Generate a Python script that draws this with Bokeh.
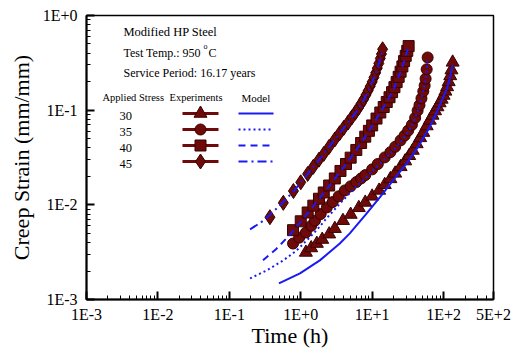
import math

from bokeh.plotting import figure
from bokeh.models import Range1d, FixedTicker, Label
from bokeh.embed import file_html
from bokeh.resources import INLINE

# ---- creep test data: time (h) and creep strain (mm/mm) ----
stresses = ["30", "35", "40", "45"]

t30 = [1.18, 1.4, 1.68, 2.0, 2.5, 3.0, 3.9, 5.0, 6.5, 8.0, 10.0, 12.5, 15.0, 18.0,
       21.0, 25.0, 29.0, 33.0, 37.0, 42.0, 47.0, 52.0, 58.0, 64.0, 70.0, 76.0,
       82.0, 88.0, 94.0, 100.0, 106.0, 112.0, 118.0, 124.0, 129.0, 134.0]
e30 = [0.00314, 0.0035, 0.0039, 0.0043, 0.0049, 0.0056, 0.0068, 0.0079, 0.0093,
       0.0106, 0.0123, 0.0142, 0.0163, 0.0188, 0.0215, 0.0252, 0.029, 0.033,
       0.0375, 0.044, 0.051, 0.058, 0.068, 0.078, 0.088, 0.098, 0.108, 0.119,
       0.130, 0.143, 0.158, 0.176, 0.199, 0.230, 0.265, 0.320]

t35 = [0.78, 0.95, 1.18, 1.4, 1.58, 1.9, 2.32, 2.8, 3.4, 4.14, 5.0, 6.0, 7.0, 8.0,
       10.0, 12.0, 15.0, 18.0, 21.0, 25.0, 28.5, 32.0, 36.0, 40.0, 43.3, 46.0,
       49.0, 52.0, 54.3, 56.0, 58.0, 59.8]
e35 = [0.0039, 0.0045, 0.0051, 0.0060, 0.0068, 0.0080, 0.0094, 0.0107, 0.0123,
       0.0142, 0.0157, 0.0174, 0.0190, 0.0206, 0.0237, 0.027, 0.0317, 0.036,
       0.041, 0.048, 0.054, 0.061, 0.070, 0.083, 0.099, 0.113, 0.133, 0.158,
       0.182, 0.215, 0.27, 0.36]

t40 = [0.78, 1.0, 1.25, 1.5, 1.8, 2.1, 2.5, 3.0, 3.6, 4.3, 5.0, 6.0, 7.0, 8.0,
       9.0, 10.0, 11.5, 13.0, 14.5, 16.0, 17.5, 19.0, 20.5, 22.0, 23.5, 25.0,
       26.5, 28.0, 29.5, 31.0, 32.4]
e40 = [0.0054, 0.0067, 0.0083, 0.0098, 0.0116, 0.0135, 0.0160, 0.0190, 0.0228,
       0.0270, 0.0315, 0.0380, 0.0450, 0.0525, 0.0605, 0.0690, 0.0815, 0.0945,
       0.108, 0.122, 0.137, 0.155, 0.175, 0.198, 0.225, 0.255, 0.290, 0.330,
       0.375, 0.423, 0.475]

t45 = [0.37, 0.57, 0.79, 1.0, 1.25, 1.5, 1.8, 2.1, 2.5, 3.0, 3.5, 4.0, 4.6, 5.2,
       5.8, 6.4, 7.0, 7.6, 8.2, 8.8, 9.4, 10.0, 10.6, 11.2, 11.8, 12.4, 13.0,
       13.5, 14.0]
e45 = [0.0074, 0.0105, 0.0140, 0.0173, 0.0212, 0.0252, 0.030, 0.0345, 0.041,
       0.049, 0.057, 0.065, 0.074, 0.084, 0.094, 0.105, 0.117, 0.130, 0.145,
       0.161, 0.179, 0.199, 0.222, 0.248, 0.278, 0.312, 0.352, 0.392, 0.440]

# ---- model predictions ----
tm30 = [0.495, 0.975, 1.85, 3.52, 4.86, 8.0, 12.8, 20.0, 30.4, 45.0, 63.7, 80.0,
        95.0, 110.0, 120.0, 129.0, 134.0]
em30 = [0.00148, 0.00189, 0.00259, 0.0039, 0.0050, 0.0078, 0.0120, 0.0185,
        0.0274, 0.042, 0.066, 0.095, 0.128, 0.165, 0.205, 0.26, 0.30]

tm35 = [0.195, 0.334, 0.57, 0.877, 1.21, 1.67, 2.3, 3.2, 4.5, 6.5, 9.0, 13.0,
        18.0, 25.0, 32.0, 38.0, 44.0, 49.0, 53.0, 56.0, 58.0, 59.8]
em35 = [0.00167, 0.00203, 0.00259, 0.0033, 0.0042, 0.0054, 0.0072, 0.0095,
        0.0125, 0.0165, 0.0208, 0.0275, 0.035, 0.046, 0.059, 0.075, 0.100,
        0.135, 0.170, 0.210, 0.26, 0.35]

tm40 = [0.296, 0.45, 0.7, 1.0, 1.5, 2.5, 4.0, 6.0, 9.0, 12.0, 16.0, 20.0, 24.0,
        27.0, 30.0, 32.4]
em40 = [0.0026, 0.0034, 0.0048, 0.0066, 0.0097, 0.0158, 0.025, 0.038, 0.060,
        0.086, 0.122, 0.167, 0.235, 0.300, 0.390, 0.470]

tm45 = [0.195, 0.3, 0.5, 0.8, 1.2, 2.0, 3.0, 4.5, 6.0, 7.5, 9.0, 10.5, 12.0,
        13.0, 14.0]
em45 = [0.0055, 0.0068, 0.0097, 0.0140, 0.0203, 0.0330, 0.049, 0.072, 0.096,
        0.125, 0.165, 0.215, 0.285, 0.350, 0.440]

# ---- axis ticks ----
x_major = [1e-3, 1e-2, 1e-1, 1.0, 10.0, 100.0, 500.0]
x_labels = ["1E-3", "1E-2", "1E-1", "1E+0", "1E+1", "1E+2", "5E+2"]
y_major = [1e-3, 1e-2, 1e-1, 1.0]
y_labels = ["1E-3", "1E-2", "1E-1", "1E+0"]

# ---- styling ----
FONT = "Liberation Serif"
MAROON = "#6e0a0a"
EDGE = "#3a0000"
BLUE = "#1a1af5"

X_MIN, X_MAX = 1e-3, 500.0
Y_MIN, Y_MAX = 1e-3, 1.0
LEFT, RIGHT, TOP, BOTTOM = 86, 493, 15, 299   # frame edges in canvas pixels
W, H = 518, 351

p = figure(width=W, height=H, x_axis_type="log", y_axis_type="log",
           x_range=Range1d(X_MIN, X_MAX), y_range=Range1d(Y_MIN, Y_MAX),
           output_backend="svg", toolbar_location=None,
           min_border_left=LEFT, min_border_right=W - RIGHT,
           min_border_top=TOP, min_border_bottom=H - BOTTOM)
p.grid.visible = False
p.background_fill_color = "white"
p.border_fill_color = "white"
p.outline_line_color = "black"
p.outline_line_width = 1.5


def lx(px):
    """Canvas x pixel -> data x (log axis)."""
    span = math.log10(X_MAX / X_MIN)
    return X_MIN * 10 ** ((px - LEFT) / (RIGHT - LEFT) * span)


def ly(py):
    """Canvas y pixel -> data y (log axis)."""
    span = math.log10(Y_MAX / Y_MIN)
    return Y_MIN * 10 ** ((BOTTOM - py) / (BOTTOM - TOP) * span)


x_minor = [k * 10.0 ** d for d in range(-3, 2) for k in range(2, 10)] + [200.0, 300.0, 400.0]
y_minor = [k * 10.0 ** d for d in range(-3, 0) for k in range(2, 10)]

p.xaxis.ticker = FixedTicker(ticks=x_major, minor_ticks=x_minor)
p.yaxis.ticker = FixedTicker(ticks=y_major, minor_ticks=y_minor)
p.xaxis.major_label_overrides = dict(zip(x_major, x_labels))
p.yaxis.major_label_overrides = dict(zip(y_major, y_labels))

for ax in (p.xaxis, p.yaxis):
    ax.axis_line_color = "black"
    ax.axis_line_width = 2
    ax.major_tick_in = 8
    ax.major_tick_out = 0
    ax.minor_tick_in = 4
    ax.minor_tick_out = 0
    ax.major_tick_line_width = 2
    ax.minor_tick_line_width = 1
    ax.major_tick_line_color = "black"
    ax.minor_tick_line_color = "black"
    ax.major_label_text_font = FONT
    ax.major_label_text_font_size = "16px"
    ax.major_label_text_color = "black"
    ax.axis_label_text_font = FONT
    ax.axis_label_text_font_size = "22px"
    ax.axis_label_text_font_style = "normal"
    ax.axis_label_text_color = "black"

p.xaxis.axis_label = "Time (h)"
p.yaxis.axis_label = "Creep Strain (mm/mm)"
p.xaxis.major_label_standoff = 6
p.xaxis.axis_label_standoff = -3
p.yaxis.major_label_standoff = 9
p.yaxis.axis_label_standoff = 6

# ---- experiments (markers) ----
series = [
    (t30, e30, "triangle", 13),
    (t35, e35, "circle", 11),
    (t40, e40, "square", 11),
    (t45, e45, "diamond", 15),
]
for t, e, mk, sz in series:
    p.scatter(t, e, marker=mk, size=sz, fill_color=MAROON, line_color=EDGE,
              line_width=1)

# ---- model curves drawn on top ----
models = [
    (tm30, em30, "solid"),
    (tm35, em35, "2 3"),
    (tm40, em40, "7 5"),
    (tm45, em45, "9 4 2 4"),
]
for t, e, dash in models:
    p.line(t, e, line_color=BLUE, line_width=2, line_dash=dash)


def text(px, py, s, size="12px", align="left"):
    p.add_layout(Label(x=lx(px), y=ly(py), text=s, text_font=FONT,
                       text_font_size=size, text_baseline="middle",
                       text_align=align, text_color="black"))


# ---- annotation block ----
text(123, 31, "Modified HP Steel", size="12.5px")
text(123, 52, "Test Temp.: 950")
text(203, 46, "o", size="8px")
text(208, 52, "C")
text(123, 72, "Service Period: 16.17 years")

text(102, 97, "Applied Stress", size="10.5px")
text(169, 97, "Experiments", size="10.5px")
text(241, 97, "Model", size="11px")

rows = [113, 129, 145, 161]
for (t, e, mk, sz), (tm, em, dash), label, py in zip(series, models, stresses, rows):
    text(119, py + 2, label, size="12.5px")
    p.segment(x0=[lx(182)], y0=[ly(py)], x1=[lx(218)], y1=[ly(py)],
              line_color=MAROON, line_width=3)
    p.scatter([lx(200)], [ly(py)], marker=mk, size=sz, fill_color=MAROON,
              line_color=EDGE, line_width=1)
    p.segment(x0=[lx(238)], y0=[ly(py)], x1=[lx(273)], y1=[ly(py)],
              line_color=BLUE, line_width=2, line_dash=dash)

open("out.html", "w").write(file_html(p, INLINE))
